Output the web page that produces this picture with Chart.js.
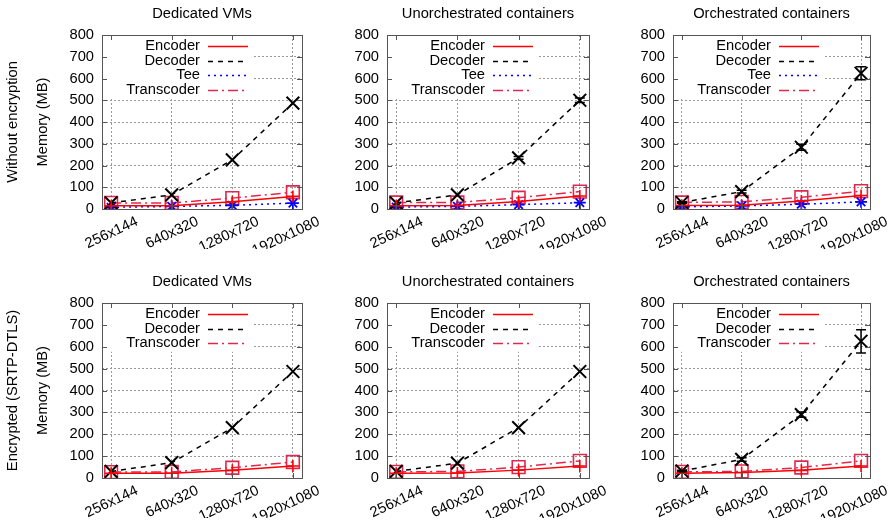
<!DOCTYPE html>
<html lang="en">
<head>
<meta charset="UTF-8">
<title>Memory usage</title>
<script src="https://cdn.jsdelivr.net/npm/chart.js"></script>
<style>
  body { margin: 0; background: #fff; }
  #wrap { position: relative; width: 893px; height: 527px; }
  #wrap canvas { position: absolute; left: 0; top: 0; }
</style>
</head>
<body>
<div id="wrap">
  <canvas id="c1" width="893" height="527"></canvas>
  <canvas id="c2" width="893" height="527"></canvas>
  <canvas id="c3" width="893" height="527"></canvas>
  <canvas id="c4" width="893" height="527"></canvas>
  <canvas id="c5" width="893" height="527"></canvas>
  <canvas id="c6" width="893" height="527"></canvas>
</div>
<script>
// x categories and y ticks
const resolutions = ['256x144', '640x320', '1280x720', '1920x1080'];
const memoryTicks = [0, 100, 200, 300, 400, 500, 600, 700, 800];

// without encryption (MB)
const vmEncoder = [15, 15, 33, 58];
const vmDecoder = [28, 65, 226, 487];
const vmTee = [8, 12, 17, 27];
const vmTranscoder = [28, 28, 50, 77];

const unorchEncoder = [15, 16, 34, 60];
const unorchDecoder = [28, 65, 235, 500];
const unorchDecoderErr = [0, 0, 6, 10];
const unorchTee = [9, 12, 20, 29];
const unorchTranscoder = [30, 30, 52, 80];

const orchEncoder = [16, 17, 37, 62];
const orchDecoder = [30, 80, 284, 624];
const orchDecoderErr = [3, 6, 14, 30];
const orchTee = [10, 14, 22, 33];
const orchTranscoder = [30, 33, 54, 82];

// encrypted, SRTP-DTLS (MB)
const vmEncEncoder = [22, 22, 35, 55];
const vmEncDecoder = [30, 70, 230, 487];
const vmEncTranscoder = [27, 28, 47, 73];

const unorchEncEncoder = [22, 23, 36, 55];
const unorchEncDecoder = [30, 68, 230, 487];
const unorchEncTranscoder = [28, 30, 50, 78];

const orchEncEncoder = [22, 25, 35, 55];
const orchEncDecoder = [32, 85, 290, 625];
const orchEncDecoderErr = [3, 8, 12, 53];
const orchEncTranscoder = [28, 30, 48, 78];

const FONT = '"Liberation Sans", Arial, Helvetica, sans-serif';
const FS = 14.7;
Chart.defaults.font.family = FONT;
Chart.defaults.font.size = FS;
Chart.defaults.color = '#000';

function makeSets(enc, dec, tee, trans, decErr) {
  const sets = [
    { label: 'Encoder', data: enc, borderColor: '#ff0000', borderDash: [], pointStyle: 'cross', pointRadius: 6, pw: 1.6 },
    { label: 'Decoder', data: dec, borderColor: '#000000', borderDash: [5, 5], pointStyle: 'crossRot', pointRadius: 9, pw: 2, errors: decErr }
  ];
  if (tee) {
    sets.push({ label: 'Tee', data: tee, borderColor: '#0000ff', borderDash: [2, 4], pointStyle: 'star', pointRadius: 6, pw: 1.8 });
  }
  sets.push({ label: 'Transcoder', data: trans, borderColor: '#e0284f', borderDash: [10, 4, 2, 4], pointStyle: 'rect', pointRadius: 9, pw: 1.6 });
  return sets.map(s => Object.assign({}, s, {
    data: s.data.map((v, i) => ({ x: i, y: v })),
    borderWidth: 1.5,
    pointBorderWidth: s.pw,
    pointBorderColor: s.borderColor,
    pointBackgroundColor: 'rgba(0,0,0,0)',
    pointHoverRadius: s.pointRadius,
    fill: false,
    tension: 0
  }));
}

// error bars, opaque key box, border with inward tics, key entries
const gnuplotLook = {
  id: 'gnuplotLook',
  afterDatasetsDraw(chart) {
    const ctx = chart.ctx;
    const a = chart.chartArea;
    const xs = chart.scales.x, ys = chart.scales.y;
    const sets = chart.data.datasets;
    ctx.save();

    sets.forEach(ds => {
      if (!ds.errors) return;
      ds.errors.forEach((e, j) => {
        if (!e) return;
        const v = ds.data[j].y;
        const px = xs.getPixelForValue(j);
        const t = ys.getPixelForValue(v + e), b = ys.getPixelForValue(v - e);
        ctx.strokeStyle = ds.borderColor;
        ctx.lineWidth = 1.5;
        ctx.setLineDash([]);
        ctx.beginPath();
        ctx.moveTo(px, t); ctx.lineTo(px, b);
        ctx.moveTo(px - 5, t); ctx.lineTo(px + 5, t);
        ctx.moveTo(px - 5, b); ctx.lineTo(px + 5, b);
        ctx.stroke();
      });
    });

    const rowH = 14.6;
    ctx.fillStyle = '#fff';
    ctx.fillRect(a.left + 1, a.top + 1, 151, sets.length * rowH + 4);

    ctx.strokeStyle = '#555';
    ctx.lineWidth = 1;
    ctx.setLineDash([]);
    ctx.strokeRect(Math.round(a.left) + 0.5, Math.round(a.top) + 0.5, Math.round(a.width), Math.round(a.height));
    ctx.beginPath();
    memoryTicks.forEach(v => {
      const py = Math.round(ys.getPixelForValue(v)) + 0.5;
      ctx.moveTo(a.left, py); ctx.lineTo(a.left + 5, py);
      ctx.moveTo(a.right - 5, py); ctx.lineTo(a.right, py);
    });
    resolutions.forEach((r, j) => {
      const px = Math.round(xs.getPixelForValue(j)) + 0.5;
      ctx.moveTo(px, a.bottom); ctx.lineTo(px, a.bottom - 5);
      ctx.moveTo(px, a.top); ctx.lineTo(px, a.top + 5);
    });
    ctx.stroke();

    ctx.font = FS + 'px ' + FONT;
    ctx.textAlign = 'right';
    ctx.textBaseline = 'middle';
    sets.forEach((ds, i) => {
      const ty = a.top + 11 + i * rowH;
      ctx.fillStyle = '#000';
      ctx.fillText(ds.label, a.left + 98, ty);
      ctx.strokeStyle = ds.borderColor;
      ctx.lineWidth = 1.5;
      ctx.setLineDash(ds.borderDash || []);
      ctx.beginPath();
      ctx.moveTo(a.left + 106, Math.round(ty) + 0.5);
      ctx.lineTo(a.left + 146, Math.round(ty) + 0.5);
      ctx.stroke();
    });
    ctx.restore();
  }
};

const W = 893, H = 527;
const X_H = 40;
const TITLE_H = 12 + FS * 1.2;

function drawPanel(id, title, area, sets, yTitle) {
  const yW = yTitle ? area.L : 50;
  new Chart(document.getElementById(id), {
    type: 'line',
    data: { datasets: sets },
    options: {
      responsive: false,
      animation: false,
      layout: {
        padding: {
          left: area.L - yW,
          right: W - area.R,
          top: area.T - TITLE_H,
          bottom: H - area.B - X_H
        }
      },
      plugins: {
        legend: { display: false },
        tooltip: { enabled: false },
        title: {
          display: true,
          text: title,
          fullSize: false,
          color: '#000',
          font: { size: FS, weight: 'normal' },
          padding: { top: 0, bottom: 12 }
        }
      },
      scales: {
        x: {
          type: 'linear',
          min: -0.15,
          max: 3.15,
          afterFit: s => { s.height = X_H; },
          grid: { color: '#9a9a9a', lineWidth: 1, drawTicks: false },
          border: { display: false, dash: [2, 2] },
          ticks: {
            stepSize: 1,
            includeBounds: false,
            autoSkip: false,
            minRotation: 25,
            maxRotation: 25,
            labelOffset: 26,
            padding: 4,
            callback: v => resolutions[v]
          }
        },
        y: {
          min: 0,
          max: 800,
          afterFit: s => { s.width = yW; },
          grid: { color: '#9a9a9a', lineWidth: 1, drawTicks: false },
          border: { display: false, dash: [2, 2] },
          ticks: { stepSize: 100, padding: 8 },
          title: yTitle ? {
            display: true,
            text: yTitle,
            color: '#000',
            font: { size: FS, lineHeight: '30px' },
            padding: { top: -2, bottom: 0 }
          } : { display: false }
        }
      }
    },
    plugins: [gnuplotLook]
  });
}

const topRow = { T: 35, B: 209 };
const botRow = { T: 303, B: 478 };
const cols = [{ L: 102, R: 302 }, { L: 387, R: 589 }, { L: 673, R: 870 }];
const area = (c, r) => ({ L: c.L, R: c.R, T: r.T, B: r.B });

drawPanel('c1', 'Dedicated VMs', area(cols[0], topRow),
  makeSets(vmEncoder, vmDecoder, vmTee, vmTranscoder, null),
  ['Without encryption', 'Memory (MB)']);
drawPanel('c2', 'Unorchestrated containers', area(cols[1], topRow),
  makeSets(unorchEncoder, unorchDecoder, unorchTee, unorchTranscoder, unorchDecoderErr));
drawPanel('c3', 'Orchestrated containers', area(cols[2], topRow),
  makeSets(orchEncoder, orchDecoder, orchTee, orchTranscoder, orchDecoderErr));

drawPanel('c4', 'Dedicated VMs', area(cols[0], botRow),
  makeSets(vmEncEncoder, vmEncDecoder, null, vmEncTranscoder, null),
  ['Encrypted (SRTP-DTLS)', 'Memory (MB)']);
drawPanel('c5', 'Unorchestrated containers', area(cols[1], botRow),
  makeSets(unorchEncEncoder, unorchEncDecoder, null, unorchEncTranscoder, null));
drawPanel('c6', 'Orchestrated containers', area(cols[2], botRow),
  makeSets(orchEncEncoder, orchEncDecoder, null, orchEncTranscoder, orchEncDecoderErr));
</script>
</body>
</html>
